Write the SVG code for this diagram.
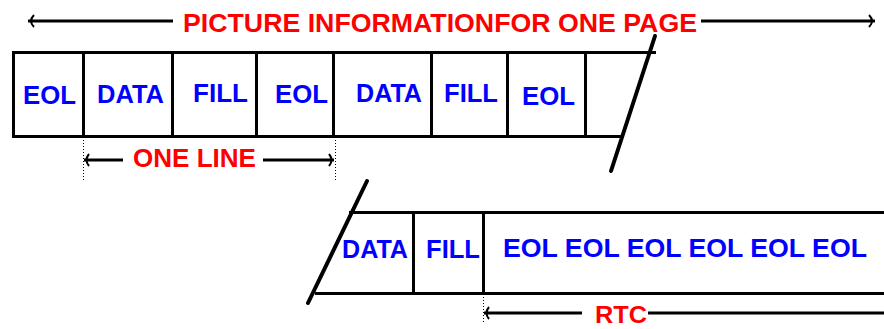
<svg xmlns="http://www.w3.org/2000/svg" width="884" height="329" viewBox="0 0 884 329">
<style>
.ln{stroke:#000;stroke-width:3;fill:none}
.ar{stroke:#000;stroke-width:2;fill:none}
.dot{stroke:#000;stroke-width:1;stroke-dasharray:1 2;fill:none}
.b{font-family:"Liberation Sans",Arial,sans-serif;font-weight:bold;font-size:26px;fill:#0000ff}
.r{font-family:"Liberation Sans",Arial,sans-serif;font-weight:bold;font-size:26px;fill:#ff0000}
.sl{stroke:#000;stroke-width:4;fill:none;stroke-linecap:round}
</style>
<rect width="884" height="329" fill="#fff"/>
<g id="connectors">
  <path class="ln" d="M28 21 H173"/>
  <path class="ar" d="M34 15 Q28 21 34 27"/>
  <path class="ln" d="M701 21 H875"/>
  <path class="ar" d="M869 15 Q875 21 869 27"/>
  <path class="dot" d="M83.5 137 V182"/>
  <path class="dot" d="M335.5 137 V180"/>
  <path class="ln" d="M84 160 H123"/>
  <path class="ln" d="M263 160 H334"/>
  <path class="ar" d="M89 154 Q84 160 89 166"/>
  <path class="ar" d="M329 154 Q334 160 329 166"/>
  <path class="dot" d="M483.5 294 V322"/>
  <path class="ln" d="M484 313 H582"/>
  <path class="ar" d="M489 307 Q484 313 489 319"/>
  <path class="ln" d="M648 313 H884"/>
</g>
<g id="row1">
  <path class="ln" d="M656 52.5 H13.5 V136.5 H623"/>
  <path class="ln" d="M83.5 52 V137 M172.5 52 V137 M256.5 52 V137 M333.5 52 V137 M431.5 52 V137 M507.5 52 V137 M585.5 52 V137"/>
  <path class="sl" d="M655 36 L611 171"/>
</g>
<g id="row2">
  <path class="ln" d="M349 212.5 H884 M315 293.5 H884"/>
  <path class="ln" d="M413.5 212 V294 M483.5 212 V294"/>
  <path class="sl" d="M367 181 L308 303"/>
</g>
<g id="title"><text class="r" x="183" y="32" textLength="514" lengthAdjust="spacingAndGlyphs">PICTURE INFORMATIONFOR ONE PAGE</text></g>
<g id="cells1">
  <text class="b" x="23" y="104" textLength="53" lengthAdjust="spacingAndGlyphs">EOL</text>
  <text class="b" x="97" y="103" textLength="67" lengthAdjust="spacingAndGlyphs">DATA</text>
  <text class="b" x="193" y="102" textLength="55" lengthAdjust="spacingAndGlyphs">FILL</text>
  <text class="b" x="275" y="103" textLength="53" lengthAdjust="spacingAndGlyphs">EOL</text>
  <text class="b" x="356" y="102" textLength="66" lengthAdjust="spacingAndGlyphs">DATA</text>
  <text class="b" x="444" y="102" textLength="54" lengthAdjust="spacingAndGlyphs">FILL</text>
  <text class="b" x="522" y="105" textLength="53" lengthAdjust="spacingAndGlyphs">EOL</text>
</g>
<g id="oneline"><text class="r" x="133" y="167" textLength="123" lengthAdjust="spacingAndGlyphs">ONE LINE</text></g>
<g id="cells2">
  <text class="b" x="342" y="258" textLength="66" lengthAdjust="spacingAndGlyphs">DATA</text>
  <text class="b" x="426" y="258" textLength="54" lengthAdjust="spacingAndGlyphs">FILL</text>
  <text class="b" x="503" y="257" textLength="364" lengthAdjust="spacingAndGlyphs">EOL EOL EOL EOL EOL EOL</text>
</g>
<g id="rtc"><text class="r" x="595" y="323" style="font-size:24px" textLength="52" lengthAdjust="spacingAndGlyphs">RTC</text></g>
</svg>
